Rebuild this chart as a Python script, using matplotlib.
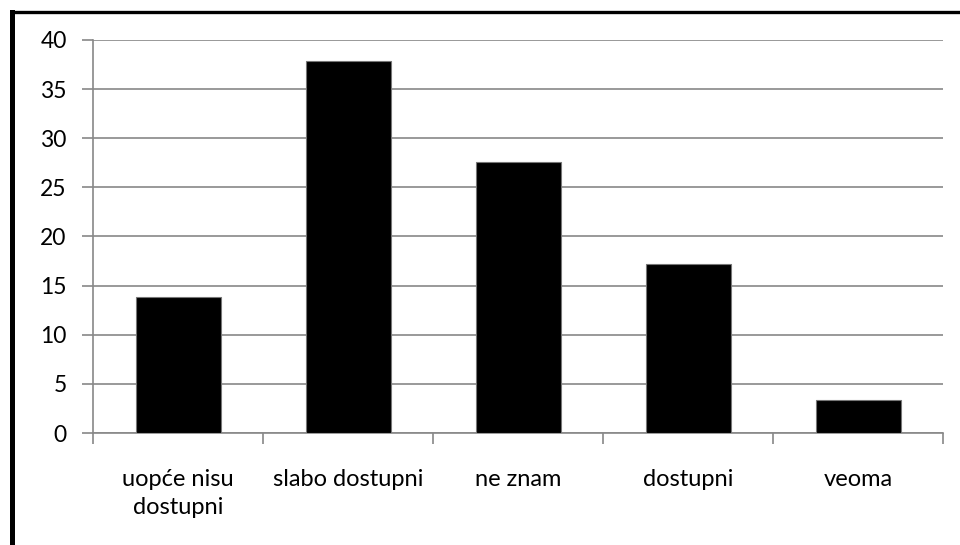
import matplotlib
matplotlib.use("Agg")
import matplotlib.pyplot as plt
from matplotlib.lines import Line2D

categories = ["uopće nisu\ndostupni", "slabo dostupni", "ne znam", "dostupni", "veoma"]
values = [13.8, 37.9, 27.6, 17.2, 3.4]
yticks = [0, 5, 10, 15, 20, 25, 30, 35, 40]

plt.rcParams['font.family'] = ['Lato', 'DejaVu Sans']
W, H = 960, 545
fig = plt.figure(figsize=(W/100, H/100), dpi=100)
ax = fig.add_axes([93/W, 1-433/H, (943-93)/W, (433-40)/H])

gray = "#888888"
x = list(range(len(categories)))
ax.bar(x, values, width=0.5, color="black", edgecolor="#777777", linewidth=0.8, zorder=3)
ax.set_xlim(-0.5, len(categories)-0.5)
ax.set_ylim(0, 40)
ax.set_yticks(yticks)
ax.set_yticklabels([str(v) for v in yticks], fontsize=16.5)
ax.yaxis.grid(True, color=gray, linewidth=1.2, zorder=0)
ax.set_axisbelow(True)
ax.set_xticks(x)
ax.set_xticklabels(categories, fontsize=17, linespacing=1.38, va="top")
ax.set_xticks([i-0.5 for i in range(len(categories)+1)], minor=True)
ax.tick_params(axis="x", which="major", length=0, pad=26)
ax.tick_params(axis="x", which="minor", length=8, width=1.2, color=gray, direction="out")
ax.tick_params(axis="y", length=8, width=1.2, color=gray, pad=11)
for s in ["top", "right"]:
    ax.spines[s].set_visible(False)
for s in ["left", "bottom"]:
    ax.spines[s].set_color(gray)
    ax.spines[s].set_linewidth(1.2)

# outer frame (top and left)
fig.add_artist(Line2D([11.5/W, 1], [1-11.5/H, 1-11.5/H], transform=fig.transFigure, color="black", linewidth=2.4))
fig.add_artist(Line2D([11.5/W, 11.5/W], [0, 1-11.5/H], transform=fig.transFigure, color="black", linewidth=3.6))

fig.savefig("out.png", dpi=100)
